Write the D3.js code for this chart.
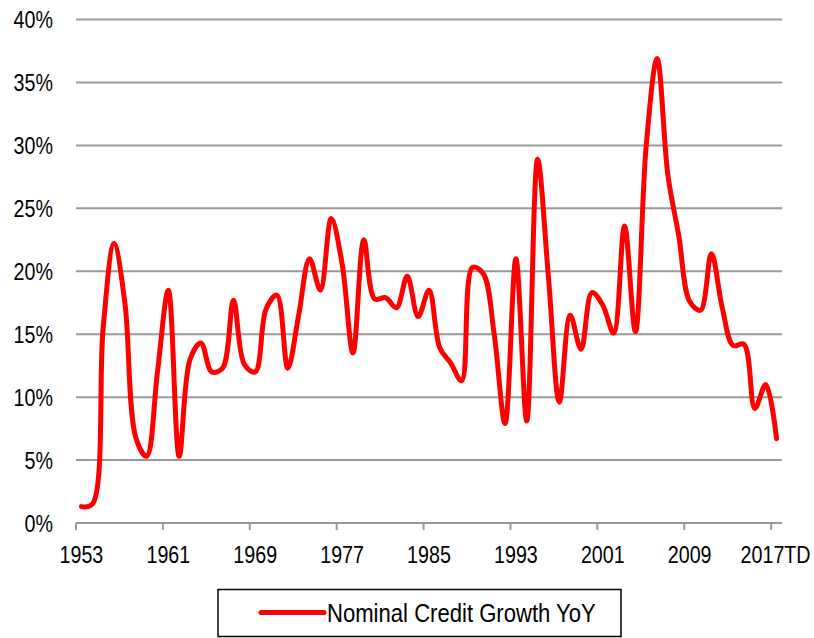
<!DOCTYPE html>
<html>
<head>
<meta charset="utf-8">
<script src="https://cdn.jsdelivr.net/npm/d3@7"></script>
<style>
  html, body { margin: 0; padding: 0; background: #fff; }
  svg { display: block; }
  text { font-family: "Liberation Sans", Arial, sans-serif; fill: #000; }
</style>
</head>
<body>
<svg id="chart" width="814" height="638"></svg>
<script>
// Annual nominal credit growth, year over year (%)
const years = d3.range(1953, 2018);
const growth = [
  1.3, 1.5, 15.5, 22.2, 17.5, 6.8, 5.3, 12.0, 18.5, 5.3,
  13.0, 14.3, 12.0, 12.3, 17.7, 12.6, 12.0, 17.0, 18.1, 12.3,
  16.5, 21.0, 18.5, 24.2, 20.6, 13.5, 22.5, 17.8, 17.9, 17.1,
  19.6, 16.4, 18.5, 13.9, 12.7, 11.3, 20.3, 19.8, 15.0, 7.9,
  21.0, 8.1, 28.9, 19.5, 9.6, 16.5, 13.8, 18.3, 17.3, 15.1,
  23.6, 15.2, 30.0, 36.9, 27.6, 22.8, 17.6, 16.9, 21.4, 17.1,
  14.1, 14.2, 9.1, 11.0, 6.7
];
const yTicks = [0, 5, 10, 15, 20, 25, 30, 35, 40];
const xTickYears = [1953, 1961, 1969, 1977, 1985, 1993, 2001, 2009, 2017];
const xTickLabel = yr => (yr === 2017 ? "2017TD" : String(yr));
const seriesName = "Nominal Credit Growth YoY";

const svg = d3.select("#chart");
const plotLeft = 76, plotRight = 782, plotTop = 19.5, plotBottom = 523;
const narrow = 0.82; // horizontal squeeze for a condensed label face

const x = d3.scaleBand().domain(years).range([plotLeft, plotRight]).padding(0);
const y = d3.scaleLinear().domain([0, 40]).range([plotBottom, plotTop]);
const cx = yr => x(yr) + x.bandwidth() / 2;

const grid = "#999999";

// horizontal gridlines
svg.append("g")
  .selectAll("line")
  .data(yTicks.filter(t => t > 0))
  .join("line")
  .attr("x1", plotLeft).attr("x2", plotRight)
  .attr("y1", d => y(d)).attr("y2", d => y(d))
  .attr("stroke", grid).attr("stroke-width", 2);

// y labels
svg.append("g")
  .selectAll("text")
  .data(yTicks)
  .join("text")
  .attr("transform", d => `translate(53,${y(d) + 8.5}) scale(${narrow},1)`)
  .attr("text-anchor", "end")
  .style("font-size", "24px")
  .text(d => d + "%");

// category axis: ticks on band edges, labels on band centres
const xAxis = svg.append("g");
xAxis.append("line")
  .attr("x1", plotLeft).attr("x2", plotRight)
  .attr("y1", plotBottom).attr("y2", plotBottom)
  .attr("stroke", grid).attr("stroke-width", 2);
xAxis.selectAll("line.tick")
  .data(xTickYears)
  .join("line")
  .attr("class", "tick")
  .attr("x1", d => x(d)).attr("x2", d => x(d))
  .attr("y1", plotBottom).attr("y2", plotBottom + 7)
  .attr("stroke", grid).attr("stroke-width", 2);
xAxis.selectAll("text")
  .data(xTickYears)
  .join("text")
  .attr("transform", d => `translate(${cx(d) - (d === 2017 ? 1 : 0)},563) scale(${narrow},1)`)
  .attr("text-anchor", "middle")
  .style("font-size", "24px")
  .text(xTickLabel);

// series line
const line = d3.line()
  .x((d, i) => cx(years[i]))
  .y(d => y(d))
  .curve(d3.curveCatmullRom.alpha(0.5));

svg.append("path")
  .datum(growth)
  .attr("d", line)
  .attr("fill", "none")
  .attr("stroke", "#ff0000")
  .attr("stroke-width", 5)
  .attr("stroke-linejoin", "round")
  .attr("stroke-linecap", "round");

// legend
const lg = svg.append("g");
lg.append("rect")
  .attr("x", 218).attr("y", 589.5)
  .attr("width", 403).attr("height", 47)
  .attr("fill", "#fff").attr("stroke", "#000").attr("stroke-width", 1.5);
lg.append("line")
  .attr("x1", 261).attr("x2", 324)
  .attr("y1", 612.5).attr("y2", 612.5)
  .attr("stroke", "#ff0000").attr("stroke-width", 5)
  .attr("stroke-linecap", "round");
lg.append("text")
  .attr("transform", "translate(327,621.5) scale(0.85,1)")
  .style("font-size", "26px")
  .text(seriesName);
</script>
</body>
</html>
